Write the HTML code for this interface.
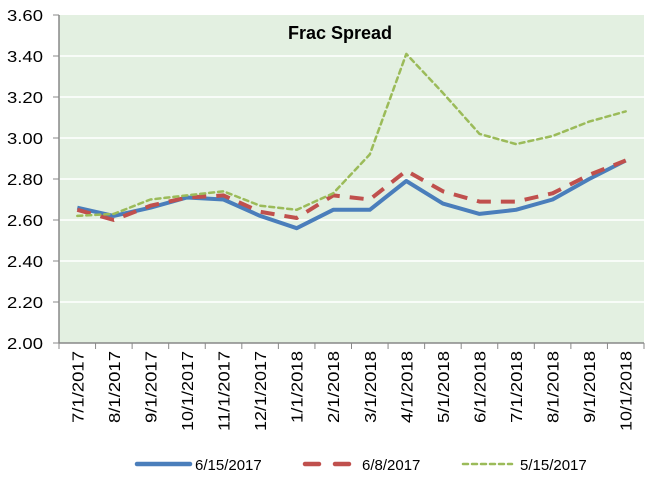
<!DOCTYPE html>
<html><head><meta charset="utf-8"><style>
body{margin:0;background:#fff;}
svg{display:block;font-family:"Liberation Sans",sans-serif;}
</style></head><body>
<svg id="c" width="655" height="490" viewBox="0 0 655 490" xmlns="http://www.w3.org/2000/svg">
<rect x="59" y="15" width="585" height="328" fill="#e3f0e1"/>
<g id="grid"></g>
<text x="340" y="39" text-anchor="middle" font-size="18" font-weight="bold" fill="#000">Frac Spread</text>
<g id="series"></g>
<line x1="137" y1="464" x2="190" y2="464" stroke="#4a7ebb" stroke-width="4.5" stroke-linecap="round"/>
<text x="195" y="470" font-size="15">6/15/2017</text>
<line x1="305" y1="464" x2="353" y2="464" stroke="#c0504d" stroke-width="4.5" stroke-dasharray="14,16" stroke-linecap="round"/>
<text x="362" y="470" font-size="15">6/8/2017</text>
<line x1="463" y1="464" x2="512" y2="464" stroke="#9bbb59" stroke-width="2.5" stroke-dasharray="5,4" stroke-linecap="round"/>
<text x="520" y="470" font-size="15">5/15/2017</text>
</svg>
<script>
var ns="http://www.w3.org/2000/svg",g=document.getElementById('grid'),s=document.getElementById('series');
function el(p,t,a,txt){var e=document.createElementNS(ns,t);for(var k in a)e.setAttribute(k,a[k]);if(txt)e.textContent=txt;p.appendChild(e);return e;}
function Y(v){return 343-(v-2)*205;}
for(var i=0;i<=8;i++){var v=2+i*0.2,y=Y(v);
 if(i>0&&i<8)el(g,'line',{x1:59,x2:644,y1:y,y2:y,stroke:'#fff','stroke-width':1.5});
 el(g,'line',{x1:53,x2:59,y1:y,y2:y,stroke:'#888'});
 el(g,'text',{x:43,y:y+6,'text-anchor':'end','font-size':16,textLength:36,lengthAdjust:'spacingAndGlyphs'},v.toFixed(2));}
el(g,'line',{x1:59,x2:59,y1:15,y2:343,stroke:'#888','stroke-width':1.5});
el(g,'line',{x1:59,x2:644,y1:343,y2:343,stroke:'#888','stroke-width':1.5});
var W=(644-59)/16;
var labels=['7/1/2017','8/1/2017','9/1/2017','10/1/2017','11/1/2017','12/1/2017','1/1/2018','2/1/2018','3/1/2018','4/1/2018','5/1/2018','6/1/2018','7/1/2018','8/1/2018','9/1/2018','10/1/2018'];
for(var i=0;i<=16;i++){var x=59+i*W;el(g,'line',{x1:x,x2:x,y1:343,y2:349,stroke:'#888'});}
for(var i=0;i<16;i++){var cx=59+W*(i+0.5)+6;var len=labels[i].length==9?80:72;el(g,'text',{x:cx,y:351,'text-anchor':'end','font-size':16,textLength:len,lengthAdjust:'spacingAndGlyphs',transform:'rotate(-90 '+cx+' 351)'},labels[i]);}
function P(d){return d.map(function(v,i){return (59+W*(i+0.5)).toFixed(1)+','+Y(v).toFixed(1)}).join(' ');}
var G=[2.62,2.63,2.70,2.72,2.74,2.67,2.65,2.73,2.92,3.41,3.22,3.02,2.97,3.01,3.08,3.13];
var R=[2.65,2.60,2.67,2.71,2.72,2.64,2.61,2.72,2.70,2.84,2.74,2.69,2.69,2.73,2.82,2.89];
var B=[2.66,2.62,2.66,2.71,2.70,2.62,2.56,2.65,2.65,2.79,2.68,2.63,2.65,2.70,2.80,2.89];
el(s,'polyline',{points:P(B),fill:'none',stroke:'#4a7ebb','stroke-width':4,'stroke-linejoin':'round'});
el(s,'polyline',{points:P(R),fill:'none',stroke:'#c0504d','stroke-width':4,'stroke-dasharray':'14,10','stroke-linejoin':'round'});
el(s,'polyline',{points:P(G),fill:'none',stroke:'#9bbb59','stroke-width':2.5,'stroke-dasharray':'5,4','stroke-linejoin':'round','stroke-linecap':'round'});
</script>
</body></html>
